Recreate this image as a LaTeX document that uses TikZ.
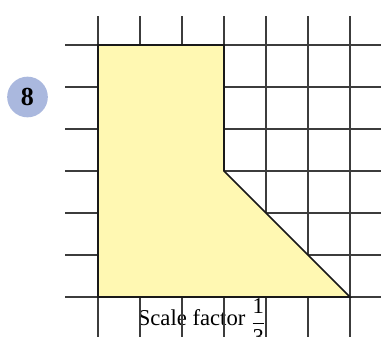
\documentclass[tikz,border=0pt]{standalone}
\usepackage{fontspec}
\setmainfont{Liberation Serif}
\definecolor{shapefill}{RGB}{255,248,178}
\definecolor{badge}{RGB}{170,184,222}
\definecolor{gridc}{RGB}{60,60,60}
\tikzset{
  gridline/.style={draw=gridc, line width=0.8pt},
  outline/.style={draw=black!90, line width=1.3pt, line join=miter, fill=shapefill},
  badgenode/.style={circle, fill=badge, minimum size=30.5pt, inner sep=0pt,
    font=\fontsize{19.5}{22}\selectfont\bfseries},
  caption/.style={font=\fontsize{17}{20}\selectfont, inner sep=0pt, anchor=base west}
}
\begin{document}
\begin{tikzpicture}[x=0.75pt, y=-0.75pt]
  \useasboundingbox (0,0) rectangle (381,336);
  % caption (under the grid lines)
  \node[caption] (cap) at (137.5,325) {Scale factor \raisebox{-3pt}{$\displaystyle\frac{\mbox{1}}{\mbox{3}}$}};
  % grid
  \foreach \k in {0,...,6} {
    \draw[gridline] ({98+42*\k},16) -- ({98+42*\k},340);
    \draw[gridline] (65,{45+42*\k}) -- (385,{45+42*\k});
  }
  % shape
  \draw[outline] (98,45) -- (224,45) -- (224,171) -- (350,297) -- (98,297) -- cycle;
  % badge
  \node[badgenode] (num) at (27.5,97) {8};
\end{tikzpicture}
\end{document}
